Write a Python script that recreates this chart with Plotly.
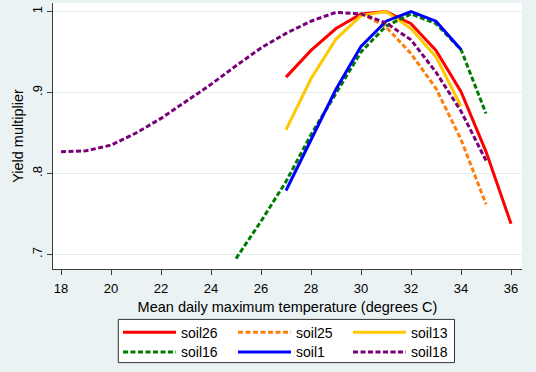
import plotly.graph_objects as go

# ---- data ----
t_soil26 = [27, 28, 29, 30, 31, 32, 33, 34, 35, 36]
v_soil26 = [0.919, 0.952, 0.979, 0.997, 1.000, 0.985, 0.952, 0.901, 0.827, 0.738]

t_soil25 = [30, 31, 32, 33, 34, 35]
v_soil25 = [0.998, 0.981, 0.948, 0.905, 0.842, 0.762]

t_soil13 = [27, 28, 29, 30, 31, 32, 33, 34]
v_soil13 = [0.854, 0.917, 0.966, 0.995, 1.000, 0.979, 0.944, 0.883]

t_soil16 = [25, 26, 27, 28, 29, 30, 31, 32, 33, 34, 35]
v_soil16 = [0.695, 0.741, 0.790, 0.848, 0.899, 0.950, 0.982, 0.997, 0.985, 0.953, 0.874]

t_soil1 = [27, 28, 29, 30, 31, 32, 33, 34]
v_soil1 = [0.779, 0.842, 0.904, 0.957, 0.988, 1.000, 0.988, 0.953]

t_soil18 = [18, 19, 20, 21, 22, 23, 24, 25, 26, 27, 28, 29, 30, 31, 32, 33, 34, 35]
v_soil18 = [0.827, 0.828, 0.835, 0.850, 0.868, 0.889, 0.910, 0.933, 0.955, 0.973,
            0.988, 0.999, 0.997, 0.986, 0.965, 0.925, 0.877, 0.816]

x_ticks = [18, 20, 22, 24, 26, 28, 30, 32, 34, 36]
y_ticks = [0.7, 0.8, 0.9, 1.0]
y_ticktext = [".7", ".8", ".9", "1"]

series = [
    ("soil26", t_soil26, v_soil26, "#FF0000", "solid", "legend"),
    ("soil25", t_soil25, v_soil25, "#FF7F0E", "5px,2.5px", "legend"),
    ("soil13", t_soil13, v_soil13, "#FFC800", "solid", "legend"),
    ("soil16", t_soil16, v_soil16, "#007A00", "5px,2.5px", "legend2"),
    ("soil1", t_soil1, v_soil1, "#0000FF", "solid", "legend2"),
    ("soil18", t_soil18, v_soil18, "#7A007A", "5px,2.5px", "legend2"),
]

FONT = "Liberation Sans, Arial, sans-serif"
BG = "#EAF2F3"
AX = "#3C3C3C"

fig = go.Figure()
for name, t, v, col, dash, lg in series:
    fig.add_trace(go.Scatter(
        x=t, y=v, mode="lines", name=name, legend=lg,
        line=dict(color=col, width=3, dash=dash),
    ))

W, H = 536, 372
L, R, T, B = 53, 14, 3, 102.5
PW, PH = W - L - R, H - T - B

leg_common = dict(
    orientation="h", xref="container", yref="container",
    xanchor="left", yanchor="middle",
    bgcolor="rgba(0,0,0,0)", borderwidth=0,
    font=dict(family=FONT, size=14, color="#000000"),
    itemwidth=53, entrywidth=47, entrywidthmode="pixels",
    tracegroupgap=0,
)

fig.update_layout(
    width=W, height=H,
    margin=dict(l=L, r=R, t=T, b=B, autoexpand=False),
    paper_bgcolor=BG, plot_bgcolor="#FFFFFF",
    font=dict(family=FONT, color="#000000"),
    showlegend=True,
    legend=dict(x=118 / W, y=1 - 332.7 / H, **leg_common),
    legend2=dict(x=118 / W, y=1 - 352.3 / H, **leg_common),
    xaxis=dict(
        range=[17.68, 36.44], tickvals=x_ticks, automargin=False,
        ticks="outside", ticklen=5, tickcolor=AX, tickwidth=1,
        ticklabelstandoff=2,
        showline=True, linecolor=AX, linewidth=1,
        showgrid=False, zeroline=False,
        tickfont=dict(family=FONT, size=13, color="#000000"),
        title=dict(text="Mean daily maximum temperature (degrees C)",
                   font=dict(family=FONT, size=14.5, color="#000000"), standoff=7),
    ),
    yaxis=dict(
        range=[0.6821, 1.0105], tickvals=y_ticks, ticktext=y_ticktext,
        tickangle=-90, automargin=False,
        ticks="outside", ticklen=5, tickcolor=AX, tickwidth=1,
        showline=True, linecolor=AX, linewidth=1,
        showgrid=True, gridcolor="#E4EDF1", gridwidth=1, zeroline=False,
        tickfont=dict(family=FONT, size=13, color="#000000"),
        title=dict(text="Yield multiplier",
                   font=dict(family=FONT, size=14.5, color="#000000"), standoff=2),
    ),
    shapes=[dict(
        type="rect", xref="paper", yref="paper", layer="below",
        x0=(118.3 - L) / PW, x1=(454.5 - L) / PW,
        y0=(H - B - 363.3) / PH, y1=(H - B - 320) / PH,
        line=dict(color="#333333", width=1), fillcolor="#FFFFFF",
    )],
)

fig.write_html(
    "out.html",
    config={"displayModeBar": False},
    post_script="document.body.style.margin='0px';document.body.style.overflow='hidden';",
)
